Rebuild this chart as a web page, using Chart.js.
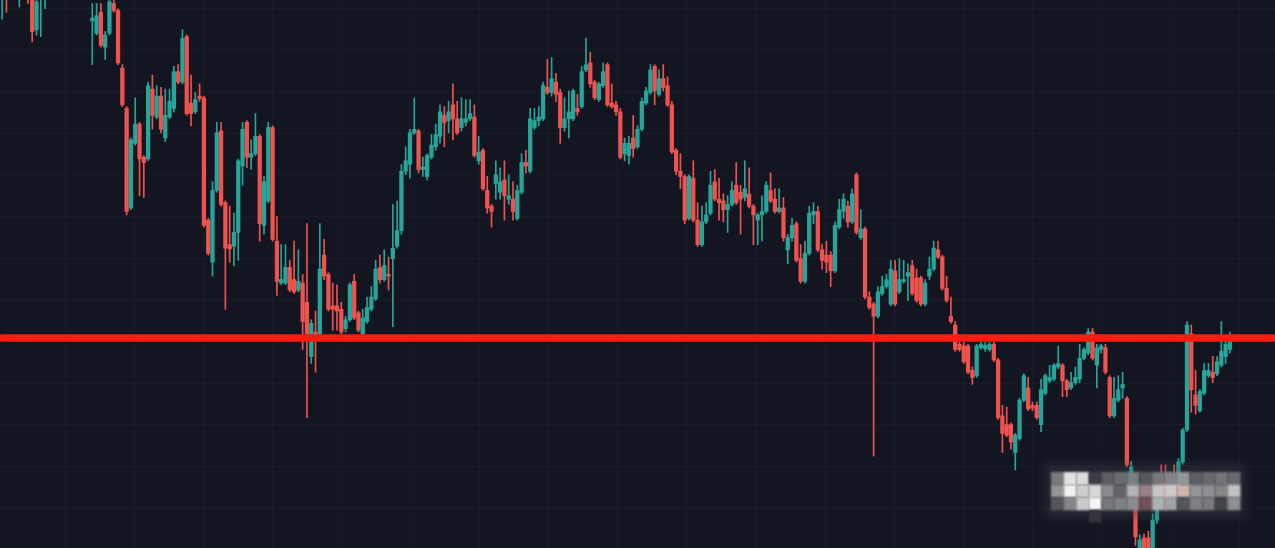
<!DOCTYPE html>
<html>
<head>
<meta charset="utf-8">
<script src="https://cdn.jsdelivr.net/npm/chart.js@4.4.1/dist/chart.umd.min.js"></script>
<style>
  html, body { margin: 0; padding: 0; background: #131620; overflow: hidden; }
  #chart { display: block; }
</style>
</head>
<body>
<canvas id="chart" width="1275" height="548"></canvas>
<script>
// OHLC (units: screen price scale, 0 = bottom edge)
const openPrices = [
  1573,1598,1608,1668,1588,1638,1598,1573,1483,1573,
  1598,1600,1640,1680,1650,1700,1660,1630,1670,1640,
  1610,1508,1473,1533,1433,1473,1558,1538,1373,1258,
  973,1158,1213,1118,1113,1313,1233,1293,1173,1233,
  1258,1363,1333,1463,1273,1248,1293,1288,938,818,
  1023,1193,988,868,863,903,1093,1218,1118,1128,
  1178,923,993,1203,878,758,758,803,768,738,
  758,703,548,618,613,838,783,693,693,683,
  628,653,763,673,613,648,683,713,803,768,
  783,828,863,908,1078,1098,1188,1193,1083,1063,
  1118,1148,1178,1238,1223,1268,1228,1203,1218,1228,
  1233,1108,1138,1023,978,1043,1018,1053,998,998,
  943,1018,1103,1078,1203,1223,1228,1318,1303,1333,
  1303,1203,1228,1228,1258,1263,1368,1388,1333,1283,
  1323,1383,1273,1268,1248,1128,1123,1173,1148,1198,
  1273,1303,1378,1298,1343,1323,1268,1138,1078,1063,
  943,1058,938,868,933,958,1048,998,993,968,
  983,1038,1018,1003,1013,978,938,953,963,1023,
  998,963,973,853,888,928,828,763,843,953,
  963,853,838,838,793,918,963,978,933,1068,
  888,913,718,698,663,728,748,698,793,733,
  763,778,808,773,773,698,778,798,853,833,
  743,663,638,583,578,578,508,493,573,570,
  568,583,538,378,353,353,273,313,423,458,
  408,408,353,443,478,483,518,523,478,458,
  473,483,543,558,618,523,568,573,488,378,
  423,458,428,215,137,-34,29,29,-34,80,
  209,195,143,200,180,246,338,613,438,393,
  443,493,503,498,523,548,568
];
const highPrices = [
  1630,1618,1678,1688,1648,1658,1618,1588,1578,1618,
  1638,1660,1700,1710,1720,1715,1680,1690,1685,1655,
  1625,1558,1558,1558,1478,1578,1568,1543,1383,1263,
  1173,1288,1218,1123,1333,1353,1323,1318,1313,1313,
  1378,1383,1483,1468,1353,1303,1328,1293,943,1048,
  1218,1218,993,978,958,1113,1218,1223,1168,1243,
  1183,1063,1218,1208,948,868,868,823,878,853,
  783,928,653,678,928,883,788,758,753,703,
  663,758,783,678,683,718,748,823,838,853,
  833,983,993,1098,1148,1198,1288,1198,1118,1128,
  1183,1213,1268,1263,1278,1328,1278,1288,1283,1283,
  1268,1178,1143,1063,983,1108,1088,1108,1068,1048,
  1038,1128,1138,1258,1258,1263,1333,1398,1403,1358,
  1313,1288,1308,1313,1298,1378,1458,1418,1338,1333,
  1388,1388,1328,1278,1258,1173,1178,1238,1208,1288,
  1318,1383,1383,1368,1383,1348,1278,1143,1128,1068,
  1068,1108,988,978,988,1078,1083,1058,1013,1008,
  1048,1103,1038,1108,1088,983,958,1008,1048,1073,
  1028,1028,1003,898,943,933,868,878,978,988,
  978,868,878,848,933,998,1013,993,1028,1073,
  968,918,733,703,748,778,783,823,823,828,
  823,813,823,798,778,768,833,878,878,838,
  778,718,648,593,588,583,518,583,588,588,
  588,588,543,408,403,358,328,428,498,488,
  418,418,483,498,523,528,578,528,483,503,
  518,583,573,628,628,583,583,583,493,488,
  493,503,433,248,168,38,40,48,98,180,
  238,238,218,238,256,343,648,638,508,453,
  528,528,548,548,648,608,618
];
const lowPrices = [
  1513,1533,1588,1598,1548,1578,1558,1448,1468,1463,
  1543,1585,1620,1630,1640,1645,1610,1615,1620,1590,
  1575,1383,1468,1433,1398,1468,1533,1383,1263,953,
  968,1153,1008,1003,1108,1198,1228,1188,1163,1228,
  1248,1328,1328,1238,1208,1243,1278,918,838,778,
  1018,978,683,818,808,823,1038,1088,1083,1123,
  878,898,988,878,723,753,753,733,728,733,
  568,373,528,503,608,768,678,623,623,613,
  618,648,653,618,608,643,678,708,758,763,
  738,633,858,898,1068,1058,1183,1073,1063,1053,
  1113,1138,1158,1148,1188,1168,1183,1193,1208,1223,
  1118,1098,1023,958,918,998,998,938,983,938,
  938,1013,1073,1073,1198,1208,1223,1298,1293,1278,
  1158,1193,1173,1223,1238,1258,1363,1318,1283,1278,
  1318,1263,1258,1238,1113,1108,1098,1118,1143,1193,
  1268,1298,1268,1293,1308,1263,1128,1068,1028,928,
  938,933,863,863,928,953,993,938,933,903,
  978,983,898,993,973,868,868,878,958,988,
  958,958,878,813,878,818,758,758,838,928,
  848,798,788,748,788,913,943,918,928,898,
  883,713,683,263,658,723,743,693,693,728,
  758,708,723,703,693,693,768,793,828,738,
  703,643,563,563,528,498,468,488,568,563,
  563,533,368,273,318,283,223,308,418,393,
  393,368,333,438,473,478,513,433,433,453,
  468,473,538,553,538,458,558,498,373,373,
  418,428,233,198,8,-72,-90,-90,-90,70,
  123,108,120,130,170,240,333,388,383,388,
  438,488,473,493,518,528,558
];
const closePrices = [
  1608,1573,1658,1618,1628,1598,1573,1478,1563,1608,
  1628,1640,1680,1650,1700,1660,1630,1670,1640,1610,
  1585,1516,1523,1438,1468,1563,1538,1388,1268,963,
  1168,1213,1113,1103,1323,1238,1293,1198,1238,1278,
  1363,1333,1458,1243,1243,1283,1286,923,843,1023,
  1188,983,858,856,903,1108,1198,1118,1128,1178,
  928,1048,1203,883,763,768,803,738,733,763,
  648,613,643,608,798,778,683,683,678,618,
  653,753,658,623,658,688,718,798,768,808,
  778,858,908,1078,1108,1188,1198,1083,1090,1123,
  1153,1183,1248,1218,1248,1228,1188,1228,1228,1243,
  1123,1133,1028,973,963,1068,1048,1008,1008,963,
  1023,1103,1093,1228,1223,1233,1323,1303,1343,1298,
  1203,1228,1248,1308,1248,1363,1383,1328,1288,1328,
  1363,1268,1263,1248,1118,1158,1158,1143,1198,1278,
  1308,1368,1308,1343,1318,1268,1133,1078,1063,938,
  1063,938,868,933,953,1038,998,988,968,983,
  1023,988,998,1028,978,953,953,963,1038,993,
  963,973,888,888,923,823,763,843,958,963,
  853,823,818,793,923,968,998,933,1013,903,
  913,718,688,663,733,748,768,798,698,768,
  768,788,728,708,698,758,798,858,833,743,
  708,648,568,568,533,503,488,578,583,580,
  583,538,373,328,323,303,323,423,493,398,
  400,373,453,493,488,523,528,478,453,473,
  488,543,568,618,543,573,578,503,378,428,
  453,468,238,232,32,23,-48,-34,80,166,
  152,137,180,152,246,338,638,453,408,448,
  508,508,488,533,563,583,593
];
const supportLevel = 601;
const barSlots = 297;          // visible bar slots incl. empty right margin
const priceMin = 0;
const priceMax = 1568;

const barLabels = Array.from({ length: barSlots }, (_, i) => 'Bar ' + (i + 1));

const upColor = '#26a69a';
const downColor = '#ef5350';
const candleColors = openPrices.map((o, i) => closePrices[i] >= o ? upColor : downColor);
const bodyData = openPrices.map((o, i) => [o, closePrices[i]]);
const wickData = lowPrices.map((l, i) => [l, highPrices[i]]);

// faint background grid
const gridColor = 'rgba(44,48,60,0.22)';
function gridTicks(start, step) {
  return (scale) => {
    const t = [];
    for (let v = start; v < scale.max; v += step) {
      if (v > scale.min) t.push({ value: v });
    }
    scale.ticks = t;
  };
}

// pixelated watermark patch at bottom right
const mosaicRows = [
  ['#7a7a7c','#e2e2e2','#dcdcdc','#3c3e44','#5c5e64','#6a6c72','#77807f','#55575c','#76777a','#828487','#939497','#5c5e63','#68696d','#737478','#68696d'],
  ['#969698','#f2f2f2','#cfcfcf','#d8d8d8','#8a8b8d','#626468','#b0b2b3','#9a8086','#c6c6c6','#cacaca','#cdb5ab','#949597','#8f9092','#858688','#c2c2c2'],
  ['#55565a','#858688','#cacaca','#f6f6f6','#76777a','#808183','#8a8b8d','#6f5156','#b0b1b2','#a2a3a5','#55565a','#808183','#7a7b7d','#434448','#8f9092']
];
const mosaicPlugin = {
  id: 'mosaic',
  afterDatasetsDraw(chart) {
    const ctx = chart.ctx;
    const left = 1051, top = 472, cell = 12.6;
    ctx.save();
    ctx.filter = 'blur(5px)';
    ctx.fillStyle = 'rgba(70,74,86,0.35)';
    ctx.fillRect(left - 6, top - 8, cell * 15 + 12, cell * 3 + 16);
    ctx.filter = 'blur(0.8px)';
    mosaicRows.forEach((row, r) => {
      row.forEach((c, k) => {
        ctx.fillStyle = c;
        ctx.fillRect(left + k * cell, top + r * cell, cell + 0.5, cell + 0.5);
      });
    });
    ctx.fillStyle = '#34363c';
    ctx.fillRect(left + 3 * cell, top + 3 * cell, cell, cell);
    ctx.restore();
  }
};

new Chart(document.getElementById('chart'), {
  type: 'bar',
  data: {
    labels: barLabels,
    datasets: [
      {
        type: 'line',
        data: [{ x: barLabels[0], y: supportLevel }, { x: barLabels[barSlots - 1], y: supportLevel }],
        borderColor: '#fc1c12',
        borderWidth: 7.5,
        borderCapStyle: 'round',
        pointRadius: 0,
        order: 0
      },
      {
        data: bodyData,
        backgroundColor: candleColors,
        barThickness: 3.6,
        grouped: false,
        order: 1
      },
      {
        data: wickData,
        backgroundColor: candleColors,
        barThickness: 1,
        grouped: false,
        order: 2
      }
    ]
  },
  options: {
    responsive: false,
    animation: false,
    devicePixelRatio: 1,
    layout: { padding: 0 },
    plugins: { legend: { display: false }, tooltip: { enabled: false } },
    scales: {
      x: { type: 'category', display: false, offset: true },
      y: { type: 'linear', display: false, min: priceMin, max: priceMax },
      xg: {
        type: 'linear', position: 'bottom', min: -0.5, max: barSlots - 0.5,
        ticks: { display: false }, border: { display: false },
        grid: { color: gridColor, drawTicks: false },
        afterBuildTicks: gridTicks(14.9, 17.1)
      },
      yg: {
        type: 'linear', position: 'left', min: priceMin, max: priceMax,
        ticks: { display: false }, border: { display: false },
        grid: { color: gridColor, drawTicks: false },
        afterBuildTicks: gridTicks(113.5, 119.3)
      }
    }
  },
  plugins: [mosaicPlugin]
});
</script>
</body>
</html>
